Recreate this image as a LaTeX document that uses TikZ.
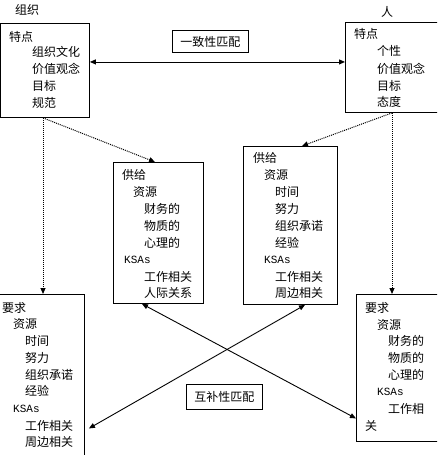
\documentclass[tikz,border=0pt]{standalone}
\usepackage{fontspec}
\setmainfont{Noto Sans CJK SC}
\newfontfamily\latinmono{Liberation Mono}
\usetikzlibrary{arrows.meta}
\begin{document}
\begin{tikzpicture}[x=1pt,y=-1pt,
  box/.style={draw=black, line width=0.9pt, anchor=north west, inner sep=0pt},
  lbl/.style={font=\fontsize{12pt}{12pt}\selectfont, anchor=west, inner sep=0pt},
  ksa/.style={font=\latinmono\fontsize{11pt}{11pt}\selectfont, anchor=west, inner sep=0pt},
  tag/.style={draw=black, line width=0.9pt, anchor=north west, inner sep=0pt, font=\fontsize{12pt}{12pt}\selectfont},
  dots/.style={densely dotted, line width=1pt, -{Triangle[length=6pt,width=5pt]}},
  both/.style={line width=0.9pt, {Triangle[length=6pt,width=5pt]}-{Triangle[length=6pt,width=5pt]}},
]
\useasboundingbox (0,0) rectangle (437,455);
\clip (0,0) rectangle (437,455);

% boxes
\node[box, minimum width=89pt, minimum height=94pt] (org) at (0,23) {};
\node[box, minimum width=95pt, minimum height=90pt] (per) at (345,22) {};
\node[box, minimum width=90pt, minimum height=141pt] (supL) at (113,162) {};
\node[box, minimum width=94pt, minimum height=158pt] (supR) at (243,146) {};
\node[box, minimum width=91pt, minimum height=172pt] (reqL) at (-7,294) {};
\node[box, minimum width=90pt, minimum height=147pt] (reqR) at (356,294) {};
\node[tag, minimum width=76pt, minimum height=22pt] (fit1) at (172,30) {一致性匹配};
\node[tag, minimum width=76pt, minimum height=25pt] (fit2) at (186,384) {互补性匹配};

% titles
\node[lbl] (torg) at (15,10) {组织};
\node[lbl, anchor=center] (tper) at (387,12) {人};

% org texts
\node[lbl] (o1) at (9,37) {特点};
\node[lbl] (o2) at (32,52) {组织文化};
\node[lbl] (o3) at (32,69) {价值观念};
\node[lbl] (o4) at (32,86) {目标};
\node[lbl] (o5) at (32,103) {规范};

% person texts
\node[lbl] (p1) at (354,34) {特点};
\node[lbl] (p2) at (377,51) {个性};
\node[lbl] (p3) at (377,69) {价值观念};
\node[lbl] (p4) at (377,86) {目标};
\node[lbl] (p5) at (377,102) {态度};

% supply left
\node[lbl] (sl1) at (122,175) {供给};
\node[lbl] (sl2) at (133,192) {资源};
\node[lbl] (sl3) at (144,209) {财务的};
\node[lbl] (sl4) at (144,226) {物质的};
\node[lbl] (sl5) at (144,243) {心理的};
\node[ksa] (sl6) at (124,260) {KSAs};
\node[lbl] (sl7) at (144,277) {工作相关};
\node[lbl] (sl8) at (144,293) {人际关系};

% supply right
\node[lbl] (sr1) at (253,158) {供给};
\node[lbl] (sr2) at (264,175) {资源};
\node[lbl] (sr3) at (275,192) {时间};
\node[lbl] (sr4) at (275,209) {努力};
\node[lbl] (sr5) at (275,226) {组织承诺};
\node[lbl] (sr6) at (275,243) {经验};
\node[ksa] (sr7) at (264,260) {KSAs};
\node[lbl] (sr8) at (275,277) {工作相关};
\node[lbl] (sr9) at (275,293) {周边相关};

% demand left
\node[lbl] (rl1) at (2,308) {要求};
\node[lbl] (rl2) at (13,324) {资源};
\node[lbl] (rl3) at (25,341) {时间};
\node[lbl] (rl4) at (25,358) {努力};
\node[lbl] (rl5) at (25,375) {组织承诺};
\node[lbl] (rl6) at (25,391) {经验};
\node[ksa] (rl7) at (13,409) {KSAs};
\node[lbl] (rl8) at (25,426) {工作相关};
\node[lbl] (rl9) at (25,442) {周边相关};

% demand right
\node[lbl] (rr1) at (365,308) {要求};
\node[lbl] (rr2) at (377,325) {资源};
\node[lbl] (rr3) at (388,341) {财务的};
\node[lbl] (rr4) at (388,358) {物质的};
\node[lbl] (rr5) at (388,375) {心理的};
\node[ksa] (rr6) at (377,392) {KSAs};
\node[lbl] (rr7) at (388,409) {工作相};
\node[lbl] (rr8) at (365,426) {关};

% connectors
\draw[both] ([yshift=8.5pt]org.east) -- ([yshift=8.5pt]org.east -| per.west);
\draw[dots] ([xshift=43pt]org.south west) -- ([xshift=43pt]org.south west |- reqL.north);
\draw[dots] ([xshift=43pt]org.south west) -- ([xshift=42pt]supL.north west);
\draw[dots] ([xshift=47pt]per.south west) -- ([xshift=47pt]per.south west |- reqR.north);
\draw[dots] ([xshift=47pt]per.south west) -- ([xshift=59pt]supR.north west);
\draw[both] ([xshift=29pt]supL.south west) -- ([yshift=-50.5pt]reqR.west);
\draw[both] ([xshift=62pt]supR.south west) -- ([xshift=4pt,yshift=-48pt]reqL.east);
\end{tikzpicture}
\end{document}
